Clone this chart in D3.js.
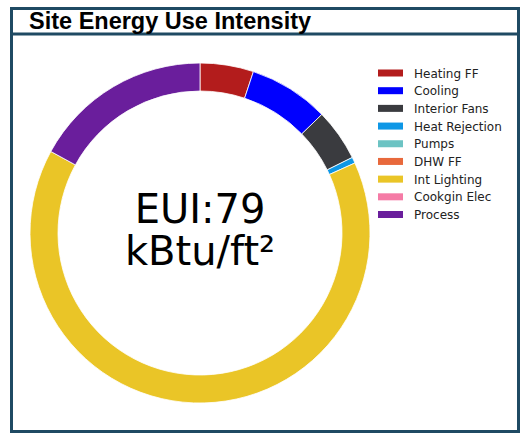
<!DOCTYPE html>
<html>
<head>
<meta charset="utf-8">
<script src="https://cdn.jsdelivr.net/npm/d3@7"></script>
<style>
  body { margin: 0; background: #fff; }
  svg { display: block; }
</style>
</head>
<body>
<script>
// end uses, in kBtu/ft2
var endUses = ["Heating FF", "Cooling", "Interior Fans", "Heat Rejection", "Pumps",
               "DHW FF", "Int Lighting", "Cookgin Elec", "Process"];
var euiValues = [4.0, 6.0, 3.9, 0.45, 0, 0, 50.9, 0, 13.4];
var endUseColors = ["#b31c1c", "#0000ff", "#3a3b3f", "#0e97e6", "#6cc3c3",
                    "#e8693c", "#eac527", "#f57ba6", "#6a1e9c"];
var totalEui = 79;

window.onload = drawChart();

function drawChart(){

    var width = 522,
        height = 435;

    var svg = d3.select("body")
        .append("svg")
        .attr("width", width)
        .attr("height", height);

    //frame and title bar
    svg.append("rect")
        .attr("x", 11.5).attr("y", 8.5)
        .attr("width", 507).attr("height", 423)
        .attr("fill", "#fff")
        .attr("stroke", "#1f4a63")
        .attr("stroke-width", 3);

    svg.append("line")
        .attr("x1", 10).attr("x2", 520)
        .attr("y1", 34).attr("y2", 34)
        .attr("stroke", "#1f4a63")
        .attr("stroke-width", 3);

    svg.append("text")
        .attr("x", 29).attr("y", 29)
        .attr("font-family", "Liberation Sans, Arial, sans-serif")
        .attr("font-weight", "bold")
        .attr("font-size", 23.5)
        .attr("fill", "#000")
        .text("Site Energy Use Intensity");

    //donut
    var cx = 200, cy = 233;

    var pie = d3.pie()
        .sort(null)
        .value(function(d){ return d; });

    var arc = d3.arc()
        .innerRadius(142)
        .outerRadius(170);

    var ring = svg.append("g")
        .attr("transform", "translate(" + cx + "," + cy + ")");

    ring.selectAll(".slice")
        .data(pie(euiValues))
        .enter()
        .append("path")
        .attr("class", "slice")
        .attr("d", arc)
        .attr("fill", function(d, i){ return endUseColors[i]; })
        .attr("stroke", "#fff")
        .attr("stroke-width", function(d){ return d.value > 0 ? 0.8 : 0; });

    //centre label
    ring.append("text")
        .attr("text-anchor", "middle")
        .attr("y", -10)
        .attr("font-family", "DejaVu Sans, sans-serif")
        .attr("font-size", 40)
        .attr("fill", "#000")
        .text("EUI:" + totalEui);

    ring.append("text")
        .attr("text-anchor", "middle")
        .attr("y", 32)
        .attr("font-family", "DejaVu Sans, sans-serif")
        .attr("font-size", 40)
        .attr("fill", "#000")
        .text("kBtu/ft²");

    //legend
    var rowY = d3.scalePoint()
        .domain(endUses)
        .range([73, 214.5]);

    var legend = svg.selectAll(".legendRow")
        .data(endUses)
        .enter()
        .append("g")
        .attr("class", "legendRow")
        .attr("transform", function(d){ return "translate(378," + rowY(d) + ")"; });

    legend.append("rect")
        .attr("x", 0).attr("y", -3.5)
        .attr("width", 25).attr("height", 7)
        .attr("fill", function(d, i){ return endUseColors[i]; });

    legend.append("text")
        .attr("x", 36).attr("y", 4.5)
        .attr("font-family", "DejaVu Sans, sans-serif")
        .attr("font-size", 12)
        .attr("fill", "#222")
        .text(function(d){ return d; });
};
</script>
</body>
</html>
